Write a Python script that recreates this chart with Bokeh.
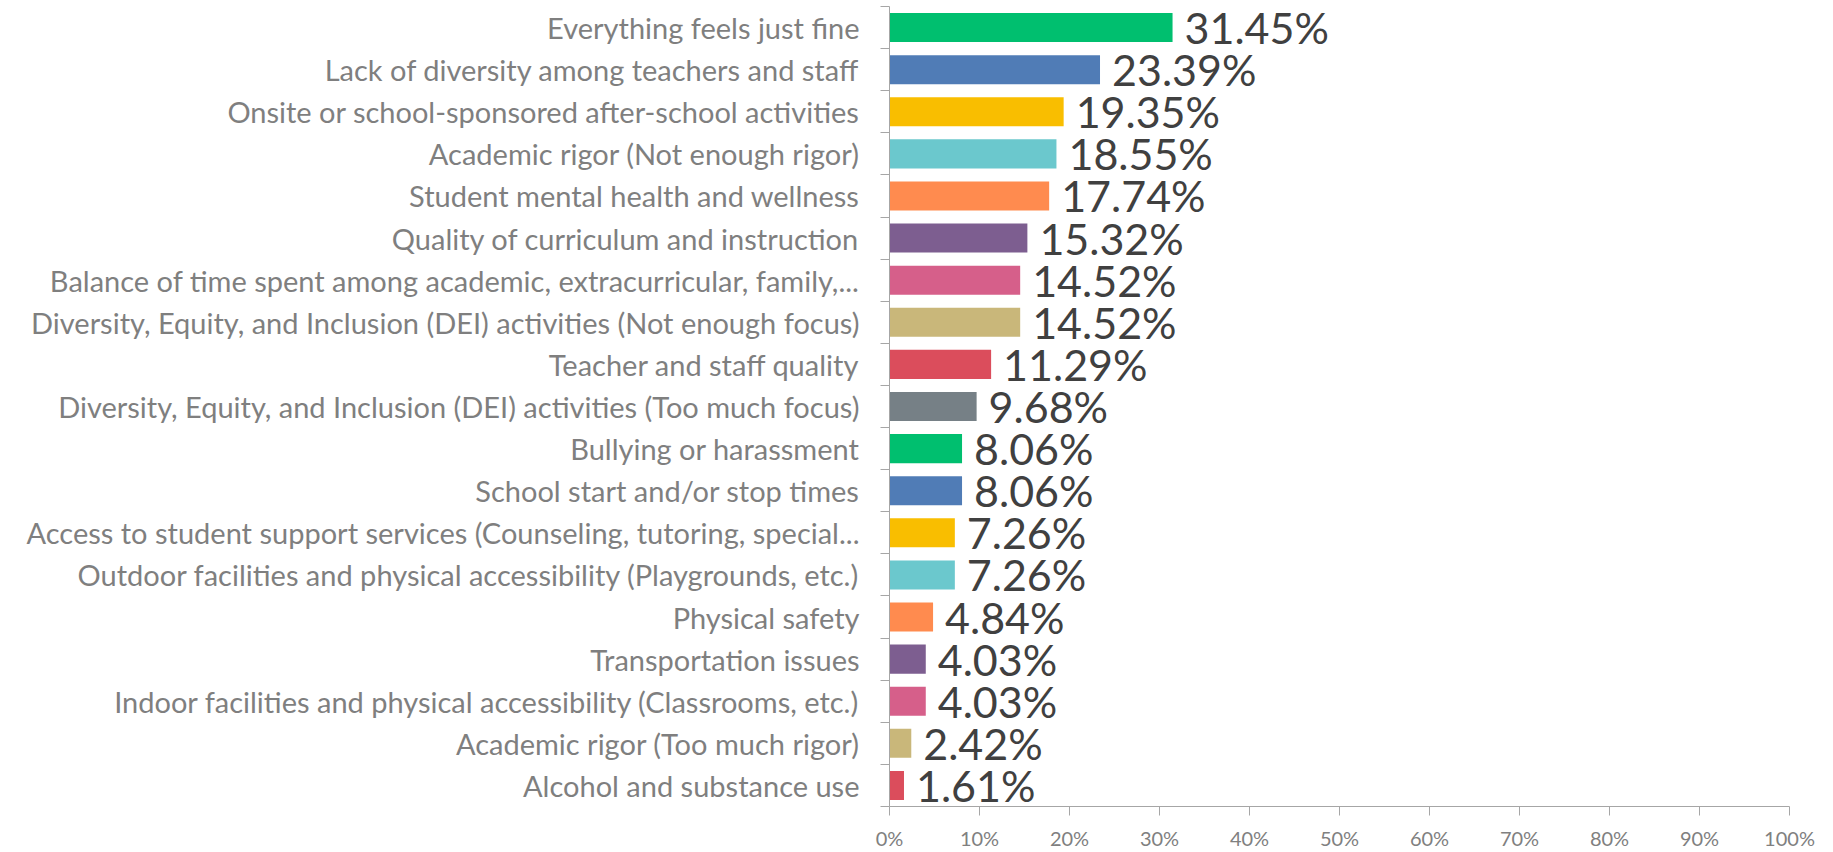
from bokeh.plotting import figure
from bokeh.models import ColumnDataSource, Range1d, FixedTicker, PrintfTickFormatter
from bokeh.core.properties import value
from bokeh.embed import file_html
from bokeh.resources import INLINE

categories = [
    "Everything feels just fine",
    "Lack of diversity among teachers and staff",
    "Onsite or school-sponsored after-school activities",
    "Academic rigor (Not enough rigor)",
    "Student mental health and wellness",
    "Quality of curriculum and instruction",
    "Balance of time spent among academic, extracurricular, family,...",
    "Diversity, Equity, and Inclusion (DEI) activities (Not enough focus)",
    "Teacher and staff quality",
    "Diversity, Equity, and Inclusion (DEI) activities (Too much focus)",
    "Bullying or harassment",
    "School start and/or stop times",
    "Access to student support services (Counseling, tutoring, special...",
    "Outdoor facilities and physical accessibility (Playgrounds, etc.)",
    "Physical safety",
    "Transportation issues",
    "Indoor facilities and physical accessibility (Classrooms, etc.)",
    "Academic rigor (Too much rigor)",
    "Alcohol and substance use",
]
values = [31.45, 23.39, 19.35, 18.55, 17.74, 15.32, 14.52, 14.52, 11.29, 9.68,
          8.06, 8.06, 7.26, 7.26, 4.84, 4.03, 4.03, 2.42, 1.61]
palette = ["#00BF6F", "#507CB6", "#F9BE00", "#6BC8CD", "#FF8B4F",
           "#7D5E90", "#D65F8A", "#C9B77A", "#DB4D5C", "#768086"]
x_ticks = [0, 10, 20, 30, 40, 50, 60, 70, 80, 90, 100]

n = len(categories)
idx = list(range(n))
colors = [palette[i % len(palette)] for i in idx]
labels = [f"{v:.2f}%" for v in values]

src = ColumnDataSource(dict(y=idx, v=values, c=colors, lab=labels))

FONT = "Lato"

p = figure(width=1833, height=852, output_backend="svg", toolbar_location=None,
           x_range=Range1d(0, 100), y_range=Range1d(n - 0.5, -0.5),
           min_border_left=889, min_border_right=44, min_border_top=6, min_border_bottom=46)
p.outline_line_color = None
p.xgrid.visible = False
p.ygrid.visible = False

p.hbar(y="y", left=0, right="v", height=0.69, fill_color="c", line_color=None, source=src)
p.text(x="v", y="y", text="lab", source=src, x_offset=12, text_align="left",
       text_baseline="middle", text_font=value(FONT),
       text_font_size="43px", text_color="#404040")

axis_color = "#A6A6A6"
xa = p.xaxis[0]
xa.ticker = FixedTicker(ticks=x_ticks)
xa.formatter = PrintfTickFormatter(format="%d%%")
xa.axis_line_color = axis_color
xa.major_tick_line_color = axis_color
xa.major_tick_out = 9
xa.major_tick_in = 0
xa.minor_tick_line_color = None
xa.major_label_standoff = 10
xa.major_label_text_font = FONT
xa.major_label_text_font_size = "20px"
xa.major_label_text_color = "#808080"

ya = p.yaxis[0]
ya.ticker = FixedTicker(ticks=idx, minor_ticks=[i - 0.5 for i in range(n + 1)])
ya.major_label_overrides = {i: categories[i] for i in idx}
ya.axis_line_color = axis_color
ya.major_tick_line_color = None
ya.major_tick_out = 0
ya.major_tick_in = 0
ya.minor_tick_line_color = axis_color
ya.minor_tick_out = 9
ya.minor_tick_in = 0
ya.major_label_standoff = 21
ya.major_label_text_font = FONT
ya.major_label_text_font_size = "29px"
ya.major_label_text_color = "#7F7F7F"

open("out.html", "w").write(file_html(p, INLINE))
